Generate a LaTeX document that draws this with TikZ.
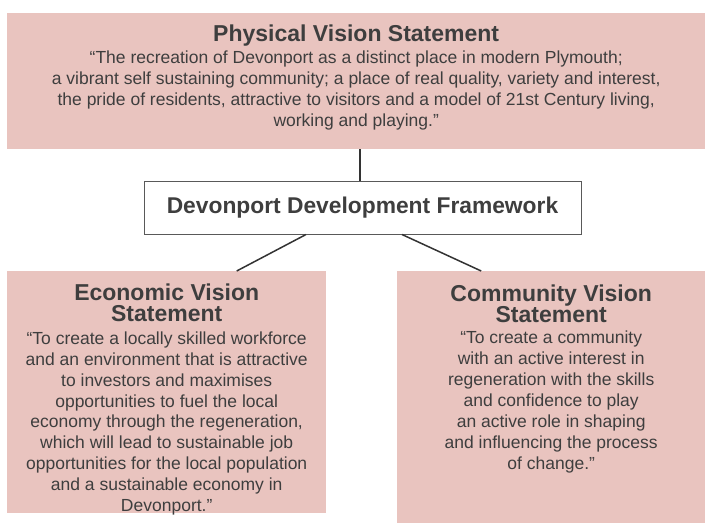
\documentclass[tikz,border=0pt]{standalone}
\usepackage{fontspec}
\setmainfont{Liberation Sans}
\usetikzlibrary{positioning, calc}

\definecolor{rose}{HTML}{E9C4BF}
\definecolor{ink}{HTML}{3E3E3E}

\begin{document}
\begin{tikzpicture}
  [
    x=1pt, y=-1pt,
    panel/.style={fill=rose, inner sep=0pt, anchor=north west},
    frame/.style={draw=black!65, fill=white, line width=1pt, inner sep=0pt,
      text=ink, font=\fontsize{22.8}{24}\selectfont\bfseries},
    heading/.style={text=ink, align=center, inner sep=0pt, anchor=north,
      font=\fontsize{23}{21}\selectfont\bfseries},
    statement/.style={text=ink, align=center, inner sep=0pt,
      font=\fontsize{17.5}{21}\selectfont},
    link/.style={draw=black!80, line width=1.5pt}
  ]
    \useasboundingbox (0,0) rectangle (705,523);
    % =========================================================================
    % NODES
    % =========================================================================
    \node [panel, minimum width=698pt, minimum height=136pt] (physical) at (7,12.7) {};
    \node [panel, minimum width=319pt, minimum height=242pt] (economic) at (7,271) {};
    \node [panel, minimum width=308pt, minimum height=252pt] (community) at (397,271) {};

    \node [frame, minimum width=437pt, minimum height=53pt] (framework) at (362.5,207.5)
      {Devonport Development Framework};

    \node [heading] (physicaltitle) at ([yshift=-12pt]physical.north)
      {Physical Vision Statement};
    \node [statement, below=4pt of physicaltitle] (physicaltext)
      {“The recreation of Devonport as a distinct place in modern Plymouth;\\
       a vibrant self sustaining community; a place of real quality, variety and interest,\\
       the pride of residents, attractive to visitors and a model of 21st Century living,\\
       working and playing.”};

    \node [heading] (economictitle) at ([yshift=-13pt]economic.north)
      {Economic Vision\\Statement};
    \node [statement, below=9.5pt of economictitle, font=\fontsize{17.5}{20.8}\selectfont]
      (economictext)
      {“To create a locally skilled workforce\\
       and an environment that is attractive\\
       to investors and maximises\\
       opportunities to fuel the local\\
       economy through the regeneration,\\
       which will lead to sustainable job\\
       opportunities for the local population\\
       and a sustainable economy in\\
       Devonport.”};

    \node [heading] (communitytitle) at ([yshift=-13.5pt]community.north)
      {Community Vision\\Statement};
    \node [statement, below=8pt of communitytitle] (communitytext)
      {“To create a community\\
       with an active interest in\\
       regeneration with the skills\\
       and confidence to play\\
       an active role in shaping\\
       and influencing the process\\
       of change.”};

    % =========================================================================
    % PATHS
    % =========================================================================
    \draw [link] ([xshift=-2.5pt]framework.north) -- ([xshift=-2.5pt]framework.north |- physical.south);
    \draw [link] ($(framework.south)+(-56.5,0)$) -- ($(economic.north)+(70,0)$);
    \draw [link] ($(framework.south)+(39.5,0)$) -- ($(community.north)+(-70,0)$);

\end{tikzpicture}
\end{document}
